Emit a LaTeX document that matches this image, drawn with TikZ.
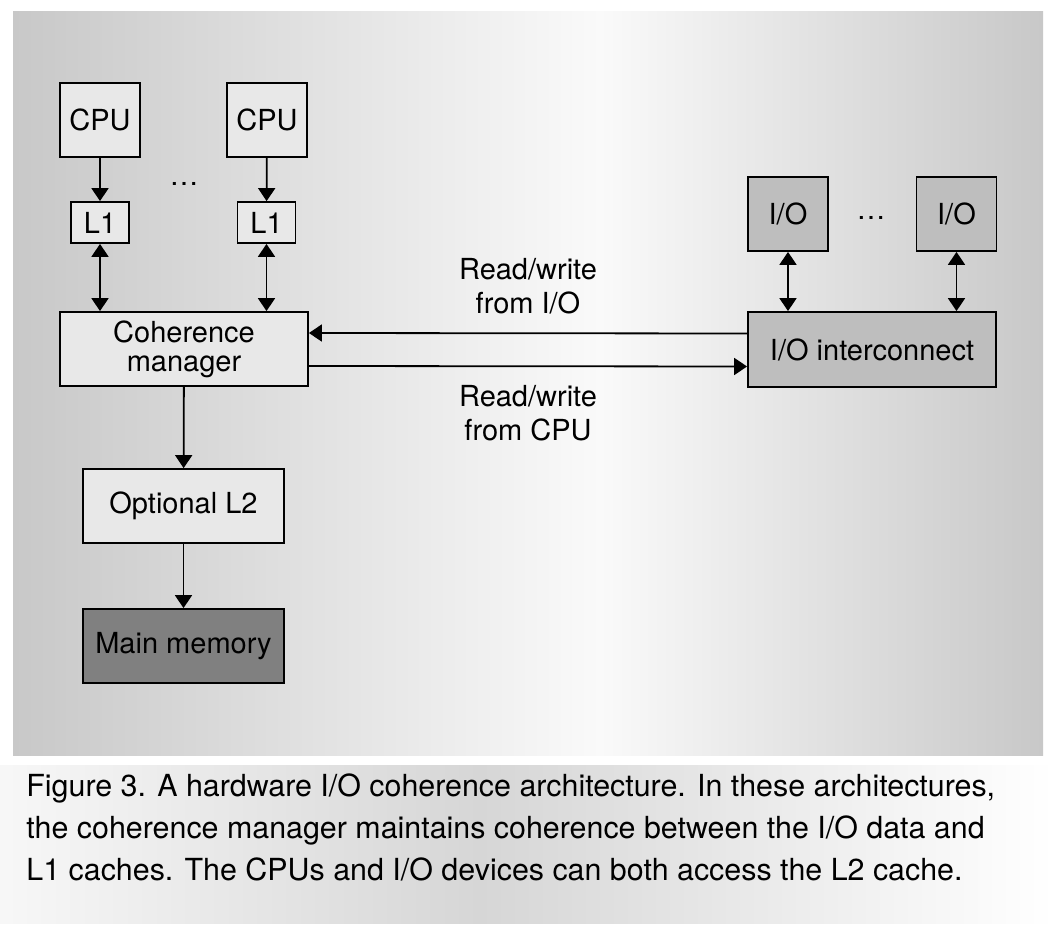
\documentclass[tikz,border=0pt]{standalone}
\usepackage{fontspec}
\setmainfont{TeX Gyre Heros}
\usepackage{tikz}
\usetikzlibrary{arrows.meta}
\definecolor{boxlight}{RGB}{232, 232, 232}
\definecolor{boxmid}{RGB}{190, 190, 190}
\definecolor{boxdark}{RGB}{128, 128, 128}
\definecolor{panelgray}{RGB}{200, 200, 200}
\definecolor{capgray}{RGB}{214, 214, 214}

\begin{document}
\begin{tikzpicture}[x=0.5pt, y=-0.5pt,
    unit/.style={draw, line width=0.9pt, inner sep=0pt, align=center,
                 font=\fontsize{14.5}{14.5}\selectfont},
    lightbox/.style={unit, fill=boxlight},
    iobox/.style={unit, fill=boxmid},
    membox/.style={unit, fill=boxdark},
    flow/.style={line width=0.9pt, -{Triangle[length=6.5pt,width=8.5pt]}},
    both/.style={line width=0.9pt, {Triangle[length=6.5pt,width=8.5pt]}-{Triangle[length=6.5pt,width=8.5pt]}},
    note/.style={align=center, font=\fontsize{14.5}{17}\selectfont}]
\useasboundingbox (0,0) rectangle (1054,936);

% Background
\fill[white] (0,0) rectangle (1054,936);
\shade[left color=panelgray, right color=white!98!black] (13,12) rectangle (600,755);
\shade[left color=white!98!black, right color=panelgray] (600,12) rectangle (1043,755);
\shade[left color=white!97!black, right color=capgray] (0,765) rectangle (480,923);
\shade[left color=capgray, right color=white] (480,765) rectangle (1054,923);

% CPU side
\node[lightbox, minimum width=40pt, minimum height=37pt] (cpuA) at (100,120) {CPU};
\node[lightbox, minimum width=40pt, minimum height=37pt] (cpuB) at (267,120) {CPU};
\node[lightbox, minimum width=29pt, minimum height=20.5pt] (lA) at (100,222.5) {L1};
\node[lightbox, minimum width=29pt, minimum height=20.5pt] (lB) at (266.5,222.5) {L1};
\node[note] (cpudots) at (184,184) {\ldots};
\node[lightbox, minimum width=124pt, minimum height=37pt] (cm) at (184,349) {Coherence\\manager};
\node[lightbox, minimum width=100.5pt, minimum height=37pt] (ltwo) at (183.5,506) {Optional L2};
\node[membox, minimum width=100.5pt, minimum height=37pt] (mem) at (183.5,646) {Main memory};

% I/O side
\node[iobox, minimum width=40pt, minimum height=37pt] (ioA) at (788,214) {I/O};
\node[iobox, minimum width=40pt, minimum height=37pt] (ioB) at (956.5,214) {I/O};
\node[note] (iodots) at (871,218) {\ldots};
\node[iobox, minimum width=124pt, minimum height=37.5pt] (ioic) at (872,349.5) {I/O interconnect};

% Connectors
\draw[flow] (cpuA) -- (lA);
\draw[flow] (cpuB) -- (lB);
\draw[both] (lA.south) -- (lA.south |- cm.north);
\draw[both] (lB.south) -- (lB.south |- cm.north);
\draw[both] (ioA.south) -- (ioA.south |- ioic.north);
\draw[both] (ioB.south) -- (ioB.south |- ioic.north);
\draw[flow] ([yshift=8pt]ioic.west) -- ([yshift=8pt]cm.east);
\draw[flow] ([yshift=-8.5pt]cm.east) -- ([yshift=-8.5pt]ioic.west);
\draw[flow] (cm) -- (ltwo);
\draw[flow] (ltwo) -- (mem);

% Labels
\node[note] (fromio) at (528,286) {Read/write\\from I/O};
\node[note] (fromcpu) at (528,413) {Read/write\\from CPU};

% Caption
\node[anchor=base west, align=left, inner sep=0pt, font=\fontsize{15.2}{21}\selectfont] (caption) at (26,880)
  {Figure 3. A hardware I/O coherence architecture. In these architectures,\\
   the coherence manager maintains coherence between the I/O data and\\
   L1 caches. The CPUs and I/O devices can both access the L2 cache.};
\end{tikzpicture}
\end{document}
